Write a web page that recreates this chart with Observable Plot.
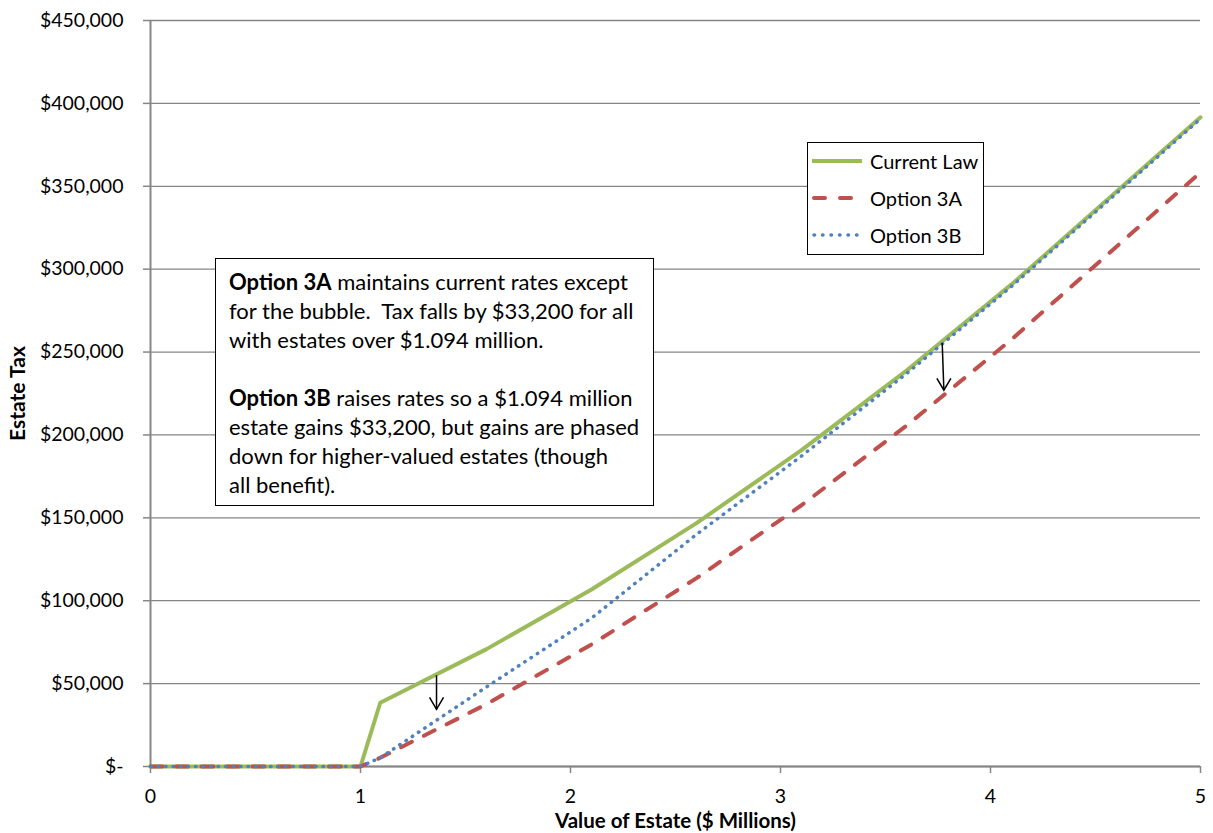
<!DOCTYPE html>
<html>
<head>
<meta charset="utf-8">
<script src="https://cdn.jsdelivr.net/npm/d3@7"></script>
<script src="https://cdn.jsdelivr.net/npm/@observablehq/plot@0.6"></script>
<style>
  html, body { margin: 0; padding: 0; background: #fff; }
  #wrap { position: relative; width: 1213px; height: 833px; font-family: Lato, "Open Sans", sans-serif; color: #000; }
  #wrap > svg { position: absolute; left: 0; top: 0; }
  .note {
    position: absolute; left: 215px; top: 258px; width: 439px; height: 248px;
    box-sizing: border-box; border: 1.3px solid #000; background: #fff;
    padding: 8px 0 0 13px; font-size: 22px; line-height: 29px;
  }
  .note .ln { height: 29px; white-space: pre; }
  .legend {
    position: absolute; left: 807px; top: 142px; width: 177px; height: 113px;
    box-sizing: border-box; border: 1.3px solid #000; background: #fff;
  }
  .legend .item { position: absolute; left: 4px; height: 22px; display: flex; align-items: center; font-size: 20px; line-height: 22px; }
  .legend .item svg { display: block; margin-right: 6px; }
</style>
</head>
<body>
<div id="wrap"></div>
<script>
// Estate value in $ millions and the tax owed under each schedule
const estate      = [0, 1.0, 1.094, 1.6, 2.1, 2.6, 3.1, 3.6, 4.1, 5.0];
const currentLaw  = [0, 0, 38464, 70800, 106800, 146800, 190800, 238800, 290800, 391600];
const option3A    = [0, 0, 5264, 37600, 73600, 113600, 157600, 205600, 257600, 358400];
const option3B    = [0, 0, 5264, 48000, 89500, 140000, 187300, 237000, 289600, 390700];

const seriesNames = ["Current Law", "Option 3A", "Option 3B"];
const xTicks = [0, 1, 2, 3, 4, 5];
const yTicks = [0, 50000, 100000, 150000, 200000, 250000, 300000, 350000, 400000, 450000];

// Arrows showing the drop from current law to each option
const arrowX1 = [1.362, 3.770];
const arrowY1 = [55000, 255500];
const arrowX2 = [1.362, 3.778];
const arrowY2 = [34500, 227000];

const rows = (vals) => estate.map((e, i) => ({estate: e, tax: vals[i]}));
const arrows = arrowX1.map((x, i) => ({x1: x, y1: arrowY1[i], x2: arrowX2[i], y2: arrowY2[i]}));

const colors = {"Current Law": "#9BBB59", "Option 3A": "#C0504D", "Option 3B": "#4F81BD"};
const grey = "#868686";
const fmt = d3.format(",");

// Open "V" arrowhead with its tip at the symbol's origin, pointing down
const vee = {
  draw(context, size) {
    const r = Math.sqrt(size / Math.PI);
    context.moveTo(-r, -1.7 * r);
    context.lineTo(0, 0);
    context.lineTo(r, -1.7 * r);
  }
};

const chart = Plot.plot({
  width: 1213,
  height: 833,
  marginLeft: 150,
  marginRight: 13,
  marginTop: 20,
  marginBottom: 67,
  style: {fontFamily: "Lato, 'Open Sans', sans-serif", fontSize: "19.5px", color: "#000", background: "transparent"},
  x: {domain: [0, 5]},
  y: {domain: [0, 450000]},
  marks: [
    Plot.gridY(yTicks, {stroke: grey, strokeOpacity: 1, strokeWidth: 1.3}),
    Plot.axisY(yTicks, {
      tickSize: 7, tickPadding: 20, stroke: grey, strokeWidth: 1.5, fill: "#000",
      tickFormat: d => d === 0 ? "$-" : "$" + fmt(d), label: null, fontSize: 19.5
    }),
    Plot.axisX(xTicks, {
      tickSize: 7, tickPadding: 16, stroke: grey, strokeWidth: 1.5, fill: "#000",
      tickFormat: d => String(d), label: null, fontSize: 19.5
    }),
    Plot.ruleX([0], {y1: 0, y2: 450000, stroke: grey, strokeWidth: 2}),
    Plot.ruleY([0], {x1: 0, x2: 5, stroke: grey, strokeWidth: 2}),
    Plot.line(rows(currentLaw), {x: "estate", y: "tax", stroke: colors["Current Law"], strokeWidth: 4, strokeLinejoin: "round"}),
    Plot.line(rows(option3A), {x: "estate", y: "tax", stroke: colors["Option 3A"], strokeWidth: 4, strokeDasharray: "12,13.5", strokeLinecap: "round"}),
    Plot.line(rows(option3B), {x: "estate", y: "tax", stroke: colors["Option 3B"], strokeWidth: 3.5, strokeDasharray: "0.5,7", strokeLinecap: "round"}),
    Plot.link(arrows, {x1: "x1", y1: "y1", x2: "x2", y2: "y2", stroke: "#000", strokeWidth: 1.5}),
    Plot.dot(arrows, {x: "x2", y: "y2", symbol: vee, r: 7, stroke: "#000", strokeWidth: 1.5, fill: "none"}),
    Plot.text(["Estate Tax"], {frameAnchor: "left", dx: -132, rotate: -90, textAnchor: "middle", lineAnchor: "middle", fontWeight: "bold", fontSize: 21}),
    Plot.text(["Value of Estate ($ Millions)"], {frameAnchor: "bottom", dy: 55, textAnchor: "middle", lineAnchor: "middle", fontWeight: "bold", fontSize: 20.5})
  ]
});

const wrap = document.getElementById("wrap");
wrap.appendChild(chart);

// Explanatory note, one row per line; an empty row separates the two options
const noteLines = [
  ["Option 3A", " maintains current rates except"],
  ["", "for the bubble.  Tax falls by $33,200 for all"],
  ["", "with estates over $1.094 million."],
  ["", ""],
  ["Option 3B", " raises rates so a $1.094 million"],
  ["", "estate gains $33,200, but gains are phased"],
  ["", "down for higher-valued estates (though"],
  ["", "all benefit)."]
];
const note = document.createElement("div");
note.className = "note";
noteLines.forEach(([bold, rest]) => {
  const ln = document.createElement("div");
  ln.className = "ln";
  if (bold) {
    const b = document.createElement("b");
    b.textContent = bold;
    ln.appendChild(b);
  }
  if (rest) {
    const s = document.createElement("span");
    s.textContent = rest;
    ln.appendChild(s);
  }
  note.appendChild(ln);
});
wrap.appendChild(note);

// Legend
const legend = document.createElement("div");
legend.className = "legend";
const swatch = {
  "Current Law": {x1: 0, x2: 50, dash: null, w: 4},
  "Option 3A": {x1: 2, x2: 44, dash: "11,15", w: 4},
  "Option 3B": {x1: 2, x2: 46, dash: "0.5,8", w: 3.5}
};
seriesNames.forEach((name, i) => {
  const s = swatch[name];
  const item = document.createElement("div");
  item.className = "item";
  item.style.top = (7 + i * 37) + "px";
  const dash = s.dash ? `stroke-dasharray="${s.dash}" stroke-linecap="round"` : "";
  item.innerHTML =
    `<svg width="52" height="10"><line x1="${s.x1}" y1="5" x2="${s.x2}" y2="5" stroke="${colors[name]}" stroke-width="${s.w}" ${dash}/></svg>` +
    `<span>${name}</span>`;
  legend.appendChild(item);
});
wrap.appendChild(legend);
</script>
</body>
</html>
